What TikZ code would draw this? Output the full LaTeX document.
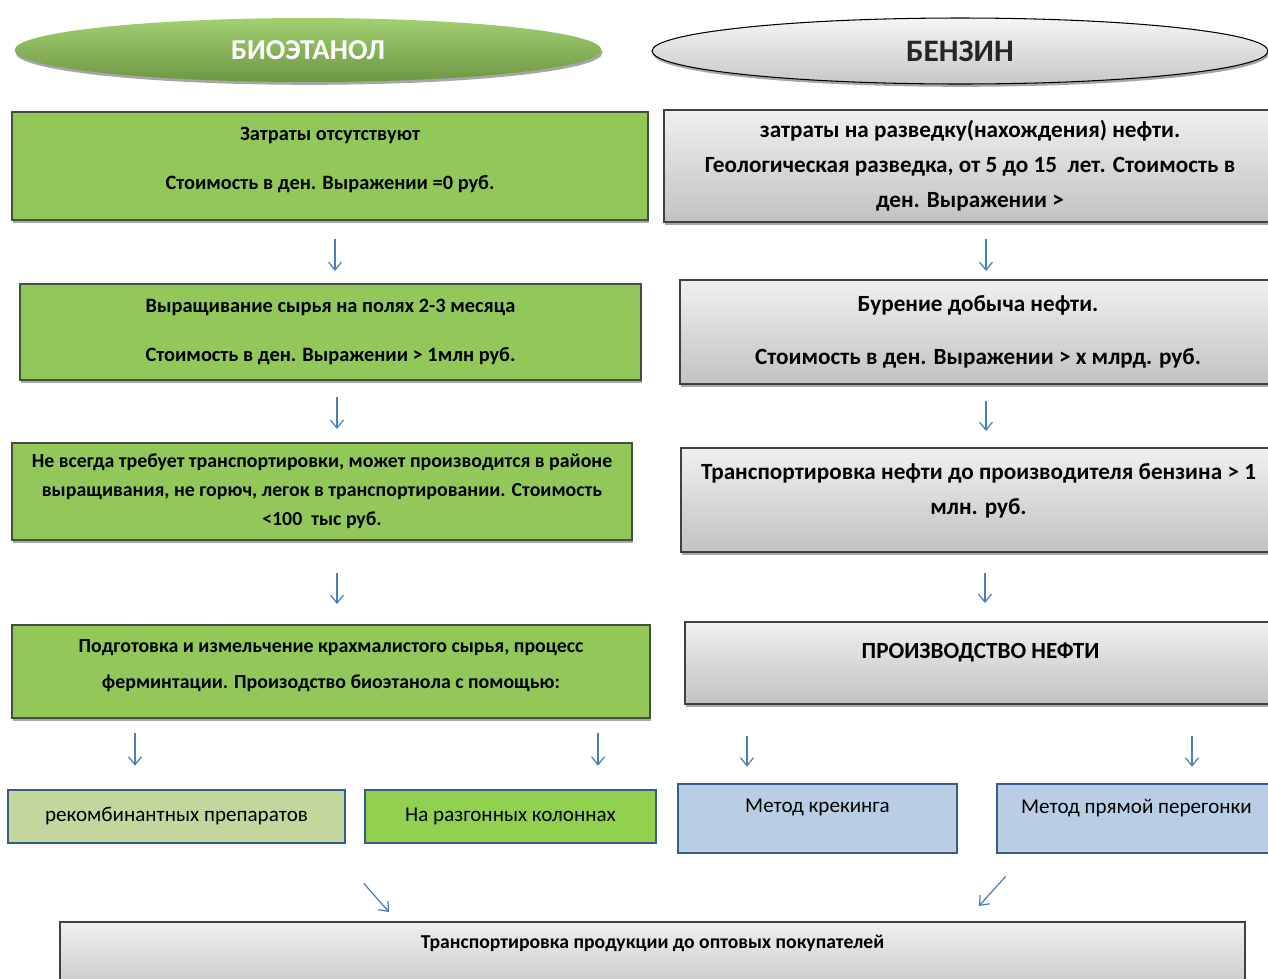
\documentclass[tikz,border=0pt]{standalone}
\usepackage{fontspec}
\setmainfont{Carlito}
\usepackage{xcolor}
\usetikzlibrary{arrows.meta,positioning,shapes.geometric,shadows}
\definecolor{boxgreen}{HTML}{92C85A}
\definecolor{boxedge}{HTML}{474F3C}
\definecolor{lightgreen}{HTML}{C3D69B}
\definecolor{brightgreen}{HTML}{92D050}
\definecolor{paleblue}{HTML}{B9CDE5}
\definecolor{blueedge}{HTML}{385D8A}
\definecolor{arrblue}{HTML}{4A7EBB}
\tikzset{
  shadowed/.style={drop shadow={shadow xshift=0.6pt, shadow yshift=-1.6pt, fill=black, opacity=0.35}},
  gbox/.style={draw=boxedge, fill=boxgreen, line width=1.1pt, align=center, shadowed, font=\bfseries\fontsize{11.6}{14}\selectfont},
  sbox/.style={draw=black!75, top color=white!94!black, bottom color=white!76!black, line width=1.1pt, align=center, shadowed, font=\bfseries\fontsize{13.2}{20}\selectfont},
  mbox/.style={draw=blueedge, line width=1.5pt, align=center, font=\fontsize{12}{14}\selectfont},
  hdbio/.style={ellipse, top color=boxgreen!85!white, bottom color=boxgreen!75!black, text=white, shadowed, minimum width=11.74cm, minimum height=1.28cm, font=\bfseries\fontsize{16.4}{18}\selectfont},
  hdgas/.style={ellipse, draw=black, line width=0.6pt, top color=white!96!black, bottom color=white!78!black, text=black!85, shadowed, minimum width=12.32cm, minimum height=1.32cm, font=\bfseries\fontsize{17.8}{20}\selectfont},
  arr/.style={-{Straight Barb[length=1.6mm, width=2.6mm]}, draw=arrblue, line width=0.7pt}
}
\begin{document}
\begin{tikzpicture}[x=0.02cm, y=-0.02cm]
\useasboundingbox (0,0) rectangle (1268,978);
% headers
\node[hdbio] (bio) at (308,50) {БИОЭТАНОЛ};
\node[hdgas] (gas) at (960,51) {БЕНЗИН};
% bioethanol column
\node[gbox, minimum width=12.72cm, minimum height=2.16cm, text depth=9pt] (g1) at (330,166)
  {Затраты отсутствуют\\[14pt]Стоимость в ден. Выражении =0 руб.};
\node[gbox, minimum width=12.42cm, minimum height=1.92cm] (g2) at (330.5,332)
  {Выращивание сырья на полях 2-3 месяца\\[14pt]Стоимость в ден. Выражении > 1млн руб.};
\node[gbox, minimum width=12.4cm, minimum height=1.94cm, font=\bfseries\fontsize{11.3}{16.5}\selectfont] (g3) at (322,491.5)
  {Не всегда требует транспортировки, может производится в районе\\выращивания, не горюч, легок в транспортировании. Стоимость\\<100\ \ тыс руб.};
\node[gbox, minimum width=12.76cm, minimum height=1.86cm, font=\bfseries\fontsize{11.3}{20.5}\selectfont, text depth=8pt] (g4) at (331,671.5)
  {Подготовка и измельчение крахмалистого сырья, процесс\\ферминтации. Произодство биоэтанола с помощью:};
% gasoline column
\node[sbox, minimum width=12.24cm, minimum height=2.24cm] (b1) at (970,166)
  {затраты на разведку(нахождения) нефти.\\Геологическая разведка, от 5 до 15\ \ лет. Стоимость в\\ден. Выражении >};
\node[sbox, minimum width=11.92cm, minimum height=2.08cm] (b2) at (978,332)
  {Бурение добыча нефти.\\[10pt]Стоимость в ден. Выражении > х млрд. руб.};
\node[sbox, minimum width=11.9cm, minimum height=2.08cm, text depth=12.5pt] (b3) at (978.5,500)
  {Транспортировка нефти до производителя бензина > 1\\млн. руб.};
\node[sbox, minimum width=11.82cm, minimum height=1.64cm, text depth=14pt, font=\bfseries\fontsize{13.2}{16}\selectfont] (b4) at (980.5,663)
  {ПРОИЗВОДСТВО НЕФТИ};
% methods
\node[mbox, fill=lightgreen, minimum width=6.74cm, minimum height=1.06cm] (r1) at (176.5,816.5) {рекомбинантных препаратов};
\node[mbox, fill=brightgreen, minimum width=5.82cm, minimum height=1.06cm] (r2) at (510.5,816.5) {На разгонных колоннах};
\node[mbox, fill=paleblue, minimum width=5.58cm, minimum height=1.38cm, text depth=14pt] (r3) at (817.5,818.5) {Метод крекинга};
\node[mbox, fill=paleblue, minimum width=5.58cm, minimum height=1.38cm, text depth=14pt] (r4) at (1136.5,818.5) {Метод прямой перегонки};
% final step
\node[sbox, minimum width=23.7cm, minimum height=1.56cm, text depth=22pt, font=\bfseries\fontsize{11.2}{13}\selectfont] (bot) at (652.5,961)
  {Транспортировка продукции до оптовых покупателей};
% arrows
\draw[arr, shorten <=0.36cm, shorten >=0.24cm] ([xshift=0.1cm]g1.south) -- ([xshift=0.1cm]g1.south |- g2.north);
\draw[arr, shorten <=0.32cm, shorten >=0.16cm] ([xshift=0.32cm]b1.south) -- ([xshift=0.32cm]b1.south |- b2.north);
\draw[arr, shorten <=0.32cm, shorten >=0.26cm] ([xshift=0.13cm]g2.south) -- ([xshift=0.13cm]g2.south |- g3.north);
\draw[arr, shorten <=0.32cm, shorten >=0.32cm] ([xshift=0.16cm]b2.south) -- ([xshift=0.16cm]b2.south |- b3.north);
\draw[arr, shorten <=0.64cm, shorten >=0.4cm] ([xshift=0.3cm]g3.south) -- ([xshift=0.3cm]g3.south |- g4.north);
\draw[arr, shorten <=0.4cm, shorten >=0.36cm] ([xshift=0.13cm]b3.south) -- ([xshift=0.13cm]b3.south |- b4.north);
\draw[arr, shorten <=0.28cm, shorten >=0.46cm] ([xshift=-0.83cm]r1.north |- g4.south) -- ([xshift=-0.83cm]r1.north);
\draw[arr, shorten <=0.28cm, shorten >=0.46cm] ([xshift=1.75cm]r2.north |- g4.south) -- ([xshift=1.75cm]r2.north);
\draw[arr, shorten <=0.62cm, shorten >=0.32cm] ([xshift=-1.41cm]r3.north |- b4.south) -- ([xshift=-1.41cm]r3.north);
\draw[arr, shorten <=0.62cm, shorten >=0.32cm] ([xshift=1.11cm]r4.north |- b4.south) -- ([xshift=1.11cm]r4.north);
\draw[arr] ([yshift=-0.78cm]r2.south west) -- ([xshift=6.6cm, yshift=0.18cm]bot.north west);
\draw[arr] ([xshift=0.2cm, yshift=-0.44cm]r4.south west) -- ([xshift=-5.34cm, yshift=0.3cm]bot.north east);
\end{tikzpicture}
\end{document}
